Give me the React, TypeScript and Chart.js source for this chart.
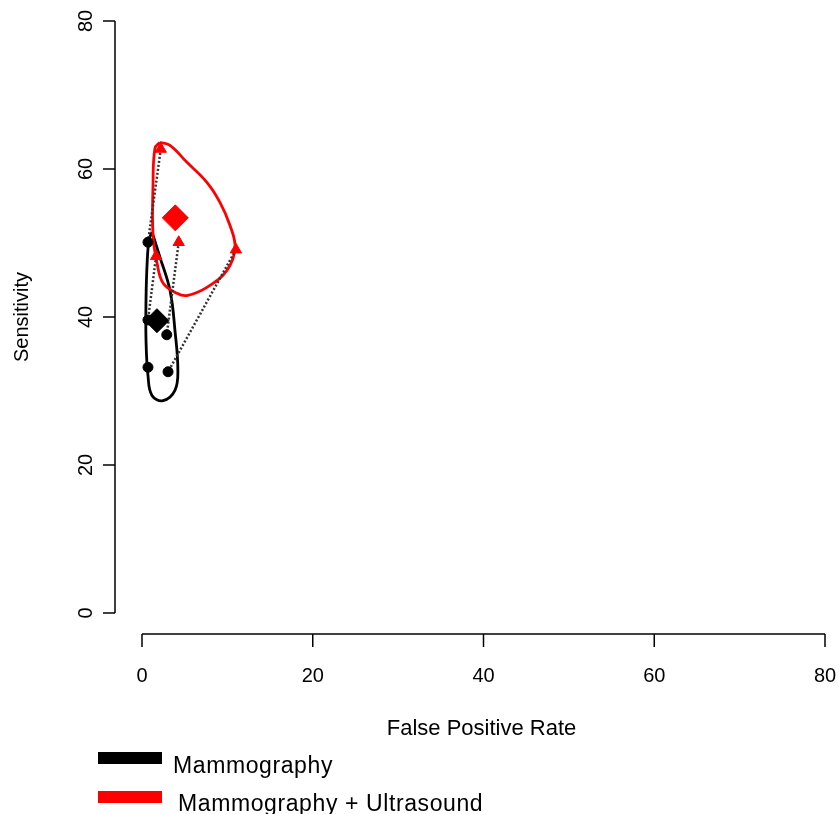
import React, { useEffect, useRef } from "react";
import { Chart, registerables } from "chart.js";

Chart.register(...registerables);

// Tick values
const xTicks = [0, 20, 40, 60, 80];
const yTicks = [0, 20, 40, 60, 80];

// Study points (False Positive Rate, Sensitivity)
const mammoFPR = [0.7, 0.7, 2.9, 0.7, 3.05];
const mammoSens = [50.1, 39.6, 37.6, 33.2, 32.6];
const usFPR = [2.2, 4.3, 1.65, 11.0];
const usSens = [62.7, 50.1, 48.2, 49.1];

// Pairing: index of mammography study for each mammography+US study
const pairMammoIndex = [0, 2, 1, 4];

// Summary estimates
const mammoSummary = { x: 1.75, y: 39.5 };
const usSummary = { x: 3.9, y: 53.4 };

// Confidence region outlines
const mammoRegionX = [1.17, 2.1, 3.28, 3.86, 4.2, 3.86, 2.46, 1.17, 0.7, 0.47, 0.47, 0.59, 0.82, 1.17];
const mammoRegionY = [51.5, 48.1, 43.6, 38.2, 32.8, 30.1, 28.7, 29.4, 32.1, 36.9, 42.3, 47.0, 50.4, 51.5];
const usRegionX = [2.1, 3.28, 5.27, 7.6, 9.13, 10.3, 10.9, 9.95, 7.6, 5.27, 4.1, 2.46, 1.76, 1.29, 1.29, 1.52, 2.1];
const usRegionY = [63.6, 63.2, 60.9, 58.2, 55.5, 52.4, 49.3, 46.3, 44.0, 42.9, 43.2, 44.6, 47.3, 51.0, 57.8, 62.8, 63.6];

const legendLabels = ["Mammography", "Mammography + Ultrasound"];
const legendColors = ["#000000", "#ff0000"];

const toPts = (xs: number[], ys: number[]) => xs.map((x, i) => ({ x, y: ys[i] }));

const axesPlugin = {
  id: "rAxes",
  afterDraw(chart: any) {
    const ctx = chart.ctx as CanvasRenderingContext2D;
    const xs = chart.scales.x;
    const ys = chart.scales.y;
    const area = chart.chartArea;
    ctx.save();
    ctx.strokeStyle = "#000";
    ctx.fillStyle = "#000";
    ctx.lineWidth = 1.5;

    // Y axis
    const yAxisX = area.left - 27;
    ctx.beginPath();
    ctx.moveTo(yAxisX, ys.getPixelForValue(yTicks[0]));
    ctx.lineTo(yAxisX, ys.getPixelForValue(yTicks[yTicks.length - 1]));
    ctx.stroke();
    ctx.font = "20px 'Liberation Sans', Arial, sans-serif";
    ctx.textAlign = "center";
    ctx.textBaseline = "middle";
    yTicks.forEach((t) => {
      const py = ys.getPixelForValue(t);
      ctx.beginPath();
      ctx.moveTo(yAxisX, py);
      ctx.lineTo(yAxisX - 12, py);
      ctx.stroke();
      ctx.save();
      ctx.translate(yAxisX - 29, py);
      ctx.rotate(-Math.PI / 2);
      ctx.fillText(String(t), 0, 0);
      ctx.restore();
    });

    // X axis
    const xAxisY = area.bottom + 21;
    ctx.beginPath();
    ctx.moveTo(xs.getPixelForValue(xTicks[0]), xAxisY);
    ctx.lineTo(xs.getPixelForValue(xTicks[xTicks.length - 1]), xAxisY);
    ctx.stroke();
    xTicks.forEach((t) => {
      const px = xs.getPixelForValue(t);
      ctx.beginPath();
      ctx.moveTo(px, xAxisY);
      ctx.lineTo(px, xAxisY + 13);
      ctx.stroke();
      ctx.fillText(String(t), px, xAxisY + 42);
    });

    // Axis titles
    ctx.font = "22px 'Liberation Sans', Arial, sans-serif";
    ctx.fillText("False Positive Rate", (area.left + area.right) / 2 - 2, 729);
    ctx.font = "20px 'Liberation Sans', Arial, sans-serif";
    ctx.save();
    ctx.translate(22, (area.top + area.bottom) / 2);
    ctx.rotate(-Math.PI / 2);
    ctx.fillText("Sensitivity", 0, 0);
    ctx.restore();

    // Legend
    ctx.textAlign = "left";
    ctx.textBaseline = "alphabetic";
    ctx.font = "23px 'Liberation Sans', Arial, sans-serif";
    (ctx as any).letterSpacing = "0.6px";
    const rows = [
      { rectY: 752, textX: 173, base: 773 },
      { rectY: 791, textX: 178, base: 811 },
    ];
    legendLabels.forEach((lab, i) => {
      ctx.fillStyle = legendColors[i];
      ctx.fillRect(98, rows[i].rectY, 64, 12);
      ctx.fillStyle = "#000";
      ctx.fillText(lab, rows[i].textX, rows[i].base);
    });
    ctx.restore();
  },
};

export default function App() {
  const canvasRef = useRef<HTMLCanvasElement | null>(null);

  useEffect(() => {
    if (!canvasRef.current) return;

    const pairDatasets = usFPR.map((x, i) => ({
      type: "line" as const,
      data: [
        { x, y: usSens[i] },
        { x: mammoFPR[pairMammoIndex[i]], y: mammoSens[pairMammoIndex[i]] },
      ],
      borderColor: "#333333",
      borderWidth: 2.5,
      borderDash: [2, 2],
      pointRadius: 0,
      showLine: true,
      fill: false,
      order: 3,
    }));

    const chart = new Chart(canvasRef.current, {
      type: "scatter",
      data: {
        datasets: [
          {
            type: "line",
            data: toPts(mammoRegionX, mammoRegionY),
            borderColor: "#000000",
            borderWidth: 2.8,
            tension: 0.4,
            pointRadius: 0,
            showLine: true,
            fill: false,
            order: 5,
          } as any,
          {
            type: "line",
            data: toPts(usRegionX, usRegionY),
            borderColor: "#ff0000",
            borderWidth: 2.8,
            tension: 0.4,
            pointRadius: 0,
            showLine: true,
            fill: false,
            order: 4,
          } as any,
          ...pairDatasets,
          {
            data: toPts(mammoFPR, mammoSens),
            pointStyle: "circle",
            pointRadius: 5,
            backgroundColor: "#000000",
            borderColor: "#000000",
            order: 2,
          },
          {
            data: toPts(usFPR, usSens),
            pointStyle: "triangle",
            pointRadius: 6.5,
            backgroundColor: "#ff0000",
            borderColor: "#ff0000",
            order: 2,
          },
          {
            data: [mammoSummary],
            pointStyle: "rectRot",
            pointRadius: 12,
            backgroundColor: "#000000",
            borderColor: "#000000",
            order: 1,
          },
          {
            data: [usSummary],
            pointStyle: "rectRot",
            pointRadius: 13,
            backgroundColor: "#ff0000",
            borderColor: "#ff0000",
            order: 1,
          },
        ],
      },
      options: {
        animation: false,
        responsive: true,
        maintainAspectRatio: false,
        layout: { padding: { left: 142, right: 14, top: 21, bottom: 201 } },
        plugins: { legend: { display: false }, tooltip: { enabled: false } },
        scales: {
          x: { type: "linear", min: 0, max: 80, display: false },
          y: { type: "linear", min: 0, max: 80, display: false },
        },
      },
      plugins: [axesPlugin],
    } as any);

    return () => chart.destroy();
  }, []);

  return (
    <div style={{ position: "absolute", left: 0, top: 0, width: 839, height: 814, background: "#fff" }}>
      <canvas ref={canvasRef} />
    </div>
  );
}
